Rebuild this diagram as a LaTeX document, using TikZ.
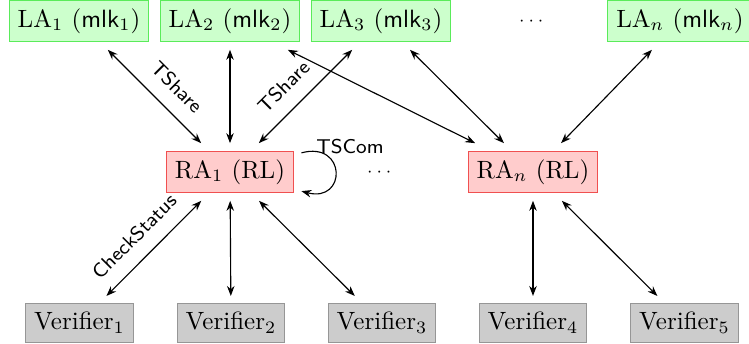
\documentclass[tikz,border=0pt]{standalone}
\usepackage{amsmath,amssymb}
\usepackage{xcolor}
\usepackage{tikz}
\usetikzlibrary{
    arrows.meta,
    positioning,
    calc
}
\definecolor{laFill}{RGB}{204,255,204}
\definecolor{laDraw}{RGB}{90,235,90}
\definecolor{raFill}{RGB}{255,204,204}
\definecolor{raDraw}{RGB}{240,80,80}
\definecolor{verFill}{RGB}{204,204,204}
\definecolor{verDraw}{RGB}{150,150,150}

\begin{document}
\begin{tikzpicture}[
    x=0.4pt,
    y=-0.4pt,
    >={Stealth[length=4pt,width=3pt]},
    labox/.style={draw=laDraw, fill=laFill, outer sep=3.2pt},
    rabox/.style={draw=raDraw, fill=raFill, outer sep=3.2pt},
    verbox/.style={draw=verDraw, fill=verFill, outer sep=3.2pt},
    link/.style={<->, line width=0.45pt},
    lbl/.style={font=\footnotesize\sffamily},
    dotlbl/.style={font=\scriptsize}
]

\useasboundingbox (0,0) rectangle (749,344);

% =============================================================
% Local authorities (top row)
% =============================================================

\node[labox] (LA1) at (79,21)  {LA$_1$ ($\mathsf{mlk}_1$)};
\node[labox] (LA2) at (230,21) {LA$_2$ ($\mathsf{mlk}_2$)};
\node[labox] (LA3) at (381,21) {LA$_3$ ($\mathsf{mlk}_3$)};
\node[dotlbl] (dotsTop) at (533,21) {$\cdots$};
\node[labox] (LAn) at (680,21) {LA$_n$ ($\mathsf{mlk}_n$)};

% =============================================================
% Revocation authorities (middle row)
% =============================================================

\node[rabox] (RA1) at (230,172) {RA$_1$ (RL)};
\node[dotlbl] (dotsMid) at (381,172) {$\cdots$};
\node[rabox] (RAn) at (533,172) {RA$_n$ (RL)};

% =============================================================
% Verifiers (bottom row)
% =============================================================

\node[verbox] (V1) at (79.5,323) {Verifier$_1$};
\node[verbox] (V2) at (231,323)  {Verifier$_2$};
\node[verbox] (V3) at (382,323)  {Verifier$_3$};
\node[verbox] (V4) at (533,323)  {Verifier$_4$};
\node[verbox] (V5) at (684.5,323) {Verifier$_5$};

% LA -- RA links
\draw[link] (LA1) -- (RA1)
    node[lbl, sloped, above=2.5pt, pos=0.57] (tshareA) {TShare};
\draw[link] (LA2) -- (RA1);
\draw[link] (LA3) -- (RA1)
    node[lbl, sloped, above=2.5pt, pos=0.565] (tshareB) {TShare};
\draw[link] (LA2) -- (RAn);
\draw[link] (LA3) -- (RAn);
\draw[link] (LAn) -- (RAn);

% RA self-communication
\draw[->, line width=0.45pt]
    (RA1.15) to[out=15, in=-15, distance=6.6mm] (RA1.-15);
\node[lbl] (tscom) at (350,147) {TSCom};

% RA -- verifier links
\draw[link] (RA1) -- (V1)
    node[lbl, sloped, above=2.5pt, pos=0.54] (check) {CheckStatus};
\draw[link] (RA1) -- (V2);
\draw[link] (RA1) -- (V3);
\draw[link] (RAn) -- (V4);
\draw[link] (RAn) -- (V5);

\end{tikzpicture}
\end{document}
